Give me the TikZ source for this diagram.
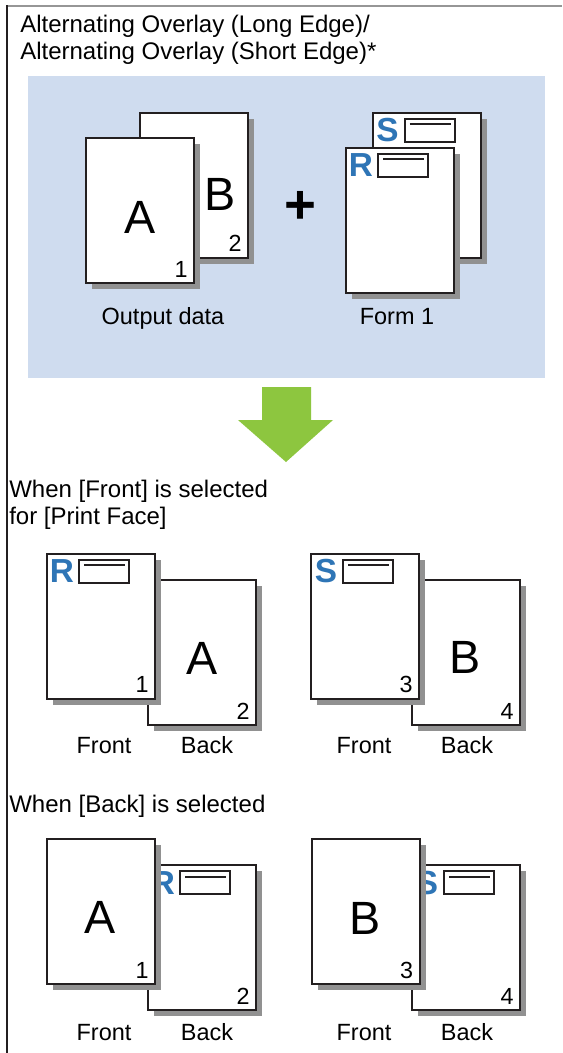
\documentclass[tikz,border=0pt]{standalone}
\usepackage{fontspec}
\setmainfont{Liberation Sans}
\usetikzlibrary{calc,shadows}
\definecolor{panelblue}{RGB}{207,220,239}
\definecolor{formblue}{RGB}{46,117,182}
\definecolor{shgray}{RGB}{145,145,145}
\definecolor{framegray}{RGB}{150,150,150}
\definecolor{arrowgreen}{RGB}{141,198,63}
\definecolor{inkdark}{RGB}{35,31,32}
\newcommand\formmark[3]{%
  \node[formletter] (#3L) at ($(#1.north west)+(16,19)$) {#2};
  \node[formbox,anchor=north west] (#3B) at ($(#1.north west)+(32,6)$) {};
  \draw[inkdark,line width=1.5pt] ($(#3B.north west)+(6,6.5)$) -- ($(#3B.north east)+(-5,6.5)$);
}
\newcommand\pnum[3]{%
  \node[pagenum] (#3) at ($(#1.south east)+(-14,-15)$) {#2};
}
\begin{document}
\begin{tikzpicture}[x=0.75pt,y=-0.75pt,
  sheet/.style={draw=inkdark,line width=1.5pt,fill=white,minimum width=81pt,minimum height=108.75pt,inner sep=0pt,
    drop shadow={shadow xshift=4.5pt,shadow yshift=-4.5pt,fill=shgray,opacity=1}},
  bigletter/.style={font=\fontsize{35}{35}\selectfont,inner sep=0pt},
  formletter/.style={font=\bfseries\fontsize{25}{25}\selectfont,text=formblue,inner sep=0pt},
  formbox/.style={draw=inkdark,line width=1.5pt,fill=white,minimum width=37.5pt,minimum height=17.25pt,inner sep=0pt},
  pagenum/.style={font=\fontsize{17.5}{17.5}\selectfont,inner sep=0pt},
  lbltext/.style={font=\fontsize{17.6}{17.6}\selectfont,anchor=base,inner sep=0pt},
  headtext/.style={font=\fontsize{18}{18}\selectfont,anchor=base west,inner sep=0pt}]
\useasboundingbox (0,0) rectangle (562,1053);
\fill[white] (0,0) rectangle (562,1053);
% frame
\draw[framegray,line width=1.5pt] (7,5.5) -- (562,5.5);
\draw[inkdark,line width=0.8pt] (7,5) -- (7,1053);
% title
\node[headtext] (t1) at (20,32) {Alternating Overlay (Long Edge)/};
\node[headtext] (t2) at (20,59) {Alternating Overlay (Short Edge)*};
% panel
\fill[panelblue] (28,76) rectangle (545,378);
% output data
\node[sheet] (pB) at (194,185) {};
\node[bigletter] (lB) at (220,194) {B};
\pnum{pB}{2}{nB}
\node[sheet] (pA) at (140,210.5) {};
\node[bigletter] (lA) at (140,217) {A};
\pnum{pA}{1}{nA}
\node[lbltext] (out) at (163,324) {Output data};
% plus
\node[font=\bfseries\fontsize{41}{41}\selectfont,inner sep=0pt] (plus) at (300,207) {+};
% form 1
\node[sheet] (pS) at (426.5,185) {};
\formmark{pS}{S}{fS}
\node[sheet] (pR) at (400,220) {};
\formmark{pR}{R}{fR}
\node[lbltext] (form) at (397,324) {Form 1};
% arrow
\fill[arrowgreen] (262,387) -- (311,387) -- (311,420) -- (333,420) -- (286,462) -- (238,420) -- (262,420) -- cycle;
% front section
\node[headtext] (h1) at (9,497) {When [Front] is selected};
\node[headtext] (h2) at (9,524) {for [Print Face]};
\node[sheet] (m1b) at (202,652.5) {};
\node[bigletter] (m1bl) at (202,658) {A};
\pnum{m1b}{2}{m1bn}
\node[sheet] (m1f) at (101,626) {};
\formmark{m1f}{R}{m1R}
\pnum{m1f}{1}{m1fn}
\node[lbltext] (m1ft) at (104,753) {Front};
\node[lbltext] (m1bt) at (207,753) {Back};
\node[sheet] (m2b) at (466,652.5) {};
\node[bigletter] (m2bl) at (465,657) {B};
\pnum{m2b}{4}{m2bn}
\node[sheet] (m2f) at (365,626) {};
\formmark{m2f}{S}{m2S}
\pnum{m2f}{3}{m2fn}
\node[lbltext] (m2ft) at (364,753) {Front};
\node[lbltext] (m2bt) at (467,753) {Back};
% back section
\node[headtext] (h3) at (9,812) {When [Back] is selected};
\node[sheet] (b1b) at (202,937.5) {};
\formmark{b1b}{R}{b1R}
\pnum{b1b}{2}{b1bn}
\node[sheet] (b1f) at (101,911.5) {};
\node[bigletter] (b1fl) at (100,917) {A};
\pnum{b1f}{1}{b1fn}
\node[lbltext] (b1ft) at (104,1040) {Front};
\node[lbltext] (b1bt) at (207,1040) {Back};
\node[sheet] (b2b) at (466,937.5) {};
\formmark{b2b}{S}{b2S}
\pnum{b2b}{4}{b2bn}
\node[sheet] (b2f) at (365.5,911.5) {};
\node[bigletter] (b2fl) at (365,918) {B};
\pnum{b2f}{3}{b2fn}
\node[lbltext] (b2ft) at (364,1040) {Front};
\node[lbltext] (b2bt) at (467,1040) {Back};
\end{tikzpicture}
\end{document}
